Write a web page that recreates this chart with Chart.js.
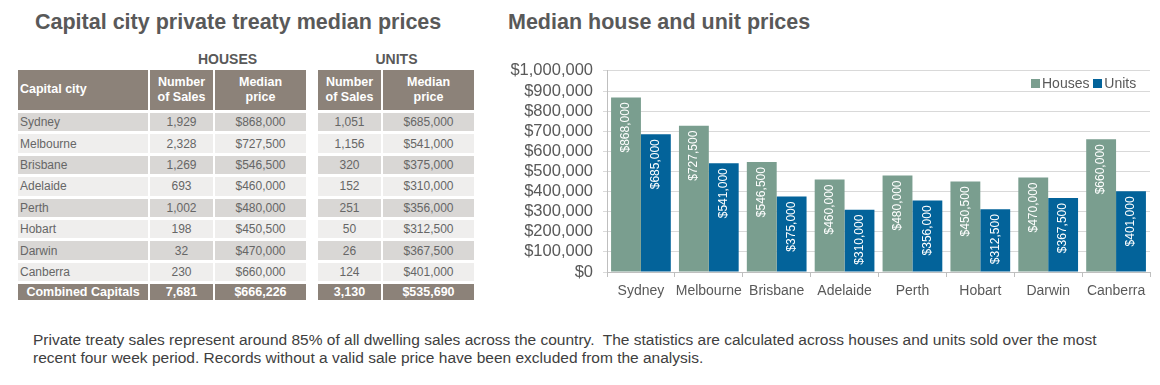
<!DOCTYPE html>
<html>
<head>
<meta charset="utf-8">
<script src="https://cdn.jsdelivr.net/npm/chart.js@4"></script>
<style>
  body { margin: 0; background: #fff; width: 1160px; height: 385px; position: relative; overflow: hidden; font-family: "Liberation Sans", Arial, sans-serif; }
  .title { position: absolute; top: 10px; font-size: 21.5px; font-weight: bold; color: #595959; white-space: nowrap; }
  .grp { position: absolute; top: 51px; font-size: 14px; font-weight: bold; color: #595959; text-align: center; }
  table { position: absolute; top: 67px; border-collapse: separate; border-spacing: 2px 3px; font-size: 12px; color: #666; }
  td { padding: 0; text-align: center; height: 18.4px; }
  th { background: #8c8279; color: #fff; font-weight: bold; height: 40px; padding: 0; line-height: 15.5px; font-size: 12.5px; }
  tr.dark td { background: #d9d7d5; }
  tr.light td { background: #efeeed; }
  tr.total td { background: #8c8279; color: #fff; font-weight: bold; height: 16px; font-size: 12.5px; }
  td.city { text-align: left; padding-left: 2px; }
  #note { position: absolute; left: 33px; top: 331px; font-size: 15.5px; line-height: 18px; color: #404040; white-space: nowrap; }
  #wrap { position: absolute; left: 500px; top: 51px; width: 660px; height: 250px; }
  #legend { position: absolute; top: 75px; left: 1031px; font-size: 14px; color: #595959; white-space: nowrap; }
  #legend span.box { display: inline-block; width: 9px; height: 9px; margin-right: 2px; }
</style>
</head>
<body>
<div class="title" style="left:35px">Capital city private treaty median prices</div>
<div class="title" style="left:508px">Median house and unit prices</div>
<div class="grp" style="left:149px;width:157px">HOUSES</div>
<div class="grp" style="left:318px;width:157px">UNITS</div>
<table id="houses" style="left:16px"></table>
<table id="units" style="left:316px"></table>
<div id="wrap"><canvas id="chart"></canvas></div>
<div id="legend"></div>
<div id="note">Private treaty sales represent around 85% of all dwelling sales across the country.&nbsp; The statistics are calculated across houses and units sold over the most<br>recent four week period. Records without a valid sale price have been excluded from the analysis.</div>

<script>
const cities = ['Sydney', 'Melbourne', 'Brisbane', 'Adelaide', 'Perth', 'Hobart', 'Darwin', 'Canberra'];
const houseSales = ['1,929', '2,328', '1,269', '693', '1,002', '198', '32', '230'];
const housePrices = [868000, 727500, 546500, 460000, 480000, 450500, 470000, 660000];
const unitSales = ['1,051', '1,156', '320', '152', '251', '50', '26', '124'];
const unitPrices = [685000, 541000, 375000, 310000, 356000, 312500, 367500, 401000];
const combinedHouses = ['7,681', '$666,226'];
const combinedUnits = ['3,130', '$535,690'];

function money(v) {
    return '$' + v.toLocaleString('en-US');
}

function buildTable(id, withCity, sales, prices, total) {
    const t = document.getElementById(id);
    let html = '<tr>';
    if (withCity) html += '<th style="width:128px;text-align:left;padding-left:2px">Capital city</th>';
    html += '<th style="width:63px">Number<br>of Sales</th><th style="width:91px">Median<br>price</th></tr>';
    cities.forEach((c, i) => {
        html += '<tr class="' + (i % 2 ? 'light' : 'dark') + '">';
        if (withCity) html += '<td class="city">' + c + '</td>';
        html += '<td>' + sales[i] + '</td><td>' + money(prices[i]) + '</td></tr>';
    });
    html += '<tr class="total">';
    if (withCity) html += '<td>Combined Capitals</td>';
    html += '<td>' + total[0] + '</td><td>' + total[1] + '</td></tr>';
    t.innerHTML = html;
}
buildTable('houses', true, houseSales, housePrices, combinedHouses);
buildTable('units', false, unitSales, unitPrices, combinedUnits);

// white rotated value labels at the top of each bar
const barLabels = {
    id: 'barLabels',
    afterDatasetsDraw(chart) {
        const ctx = chart.ctx;
        ctx.save();
        ctx.fillStyle = '#fff';
        ctx.font = '12px "Liberation Sans", Arial, sans-serif';
        ctx.textAlign = 'right';
        ctx.textBaseline = 'middle';
        chart.data.datasets.forEach((ds, di) => {
            chart.getDatasetMeta(di).data.forEach((bar, i) => {
                ctx.save();
                ctx.translate(bar.x, bar.y + 5);
                ctx.rotate(-Math.PI / 2);
                ctx.fillText(money(ds.data[i]), 0, 0);
                ctx.restore();
            });
        });
        ctx.restore();
    }
};

const ctx = document.getElementById('chart').getContext('2d');
const chart = new Chart(ctx, {
    type: 'bar',
    data: {
        labels: cities,
        datasets: [
            { label: 'Houses', data: housePrices, backgroundColor: '#7a9e8f' },
            { label: 'Units', data: unitPrices, backgroundColor: '#03639a' }
        ]
    },
    options: {
        responsive: true,
        maintainAspectRatio: false,
        animation: false,
        layout: { padding: { top: 10, right: 10 } },
        datasets: { bar: { barPercentage: 1, categoryPercentage: 0.88 } },
        plugins: {
            tooltip: { enabled: false },
            legend: { display: false }
        },
        scales: {
            x: {
                grid: { drawOnChartArea: false, drawTicks: true, tickLength: 5, color: '#bfbfbf' },
                border: { color: '#bfbfbf' },
                ticks: {
                    color: '#595959', padding: 6, autoSkip: false, maxRotation: 0, minRotation: 0,
                    font: { family: '"Liberation Sans", Arial, sans-serif', size: 14 }
                },
                afterFit(scale) { scale.height = 29; }
            },
            y: {
                min: 0,
                max: 1000000,
                grid: { color: '#d9d9d9', tickLength: 4 },
                border: { color: '#bfbfbf' },
                ticks: {
                    stepSize: 100000,
                    autoSkip: false,
                    color: '#595959',
                    padding: 10,
                    font: { family: '"Liberation Sans", Arial, sans-serif', size: 16.5 },
                    callback: v => money(v)
                },
                afterFit(scale) { scale.width = 107; }
            }
        }
    },
    plugins: [barLabels]
});

// legend built from the dataset labels and colours
document.getElementById('legend').innerHTML = chart.data.datasets.map(ds =>
    '<span class="box" style="background:' + ds.backgroundColor + '"></span>' + ds.label
).join(' ');
</script>
</body>
</html>
